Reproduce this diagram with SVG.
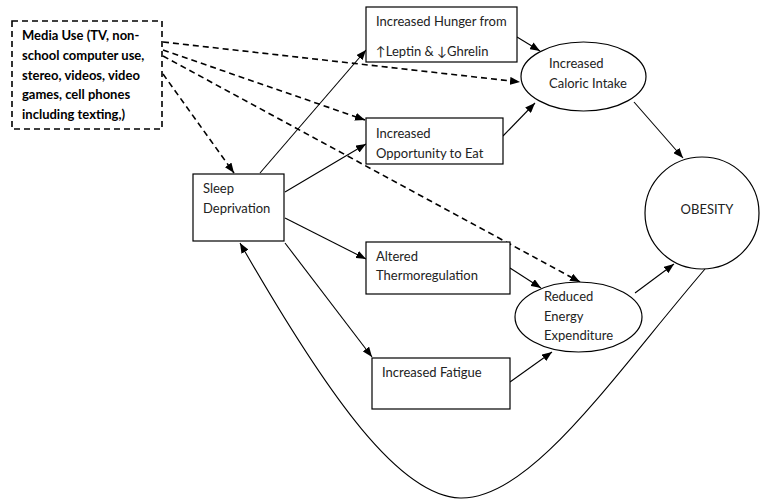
<svg xmlns="http://www.w3.org/2000/svg" width="760" height="502" viewBox="0 0 760 502">
<defs>
<marker id="ah" viewBox="0 0 10 8" refX="10" refY="4" markerWidth="10" markerHeight="8" markerUnits="userSpaceOnUse" orient="auto">
<path d="M0,0 L10,4 L0,8 z" fill="#000"/>
</marker>
<style>
.box{fill:#fff;stroke:#000;stroke-width:1.2}
.t{font-family:Lato,"Liberation Sans",sans-serif;font-size:13px;fill:#222}
.b{font-family:Lato,"Liberation Sans",sans-serif;font-size:13px;font-weight:bold;fill:#000}
.c{fill:none;stroke:#000;stroke-width:1.1;marker-end:url(#ah)}
.d{fill:none;stroke:#000;stroke-width:1.6;stroke-dasharray:6,4;marker-end:url(#ah)}
</style>
</defs>
<rect width="760" height="502" fill="#fff"/>
<g id="connectors">
<path class="c" d="M260,173 L366,50"/>
<path class="c" d="M285,192 L366,144"/>
<path class="c" d="M285,218 L366,259"/>
<path class="c" d="M285,243 L372,357"/>
<path class="c" d="M517,37 L540,51"/>
<path class="c" d="M503,136 L535,103"/>
<path class="c" d="M634,102 L683,158"/>
<path class="c" d="M510,268 L541,288"/>
<path class="c" d="M510,382 L552,352"/>
<path class="c" d="M635,293 L674,264"/>
<path class="c" d="M705,269 C610,380 530,500 460,498 C400,496 330,400 240,243"/>
<path class="d" d="M163,42 L520,82"/>
<path class="d" d="M163,50 L365,120"/>
<path class="d" d="M163,56 L580,282"/>
<path class="d" d="M163,74 L234,173"/>
</g>
<g id="media">
<rect x="12" y="21" width="150" height="108" fill="#fff" stroke="#000" stroke-width="1.6" stroke-dasharray="6,4"/>
<text class="b" x="22" y="40">Media Use (TV, non-</text>
<text class="b" x="22" y="60">school computer use,</text>
<text class="b" x="22" y="80">stereo, videos, video</text>
<text class="b" x="22" y="99">games, cell phones</text>
<text class="b" x="22" y="119">including texting,)</text>
</g>
<g id="sleep">
<rect class="box" x="193" y="174" width="91" height="67"/>
<text class="t" x="203" y="193">Sleep</text>
<text class="t" x="203" y="213">Deprivation</text>
</g>
<g id="hunger">
<rect class="box" x="366" y="7" width="151" height="55"/>
<text class="t" x="376" y="26">Increased Hunger from</text>
<text class="t" x="376" y="56">↑Leptin &amp; ↓Ghrelin</text>
</g>
<g id="opportunity">
<rect class="box" x="366" y="118" width="137" height="46"/>
<text class="t" x="376" y="138">Increased</text>
<text class="t" x="376" y="158">Opportunity to Eat</text>
</g>
<g id="thermo">
<rect class="box" x="366" y="242" width="144" height="52"/>
<text class="t" x="376" y="261">Altered</text>
<text class="t" x="376" y="280">Thermoregulation</text>
</g>
<g id="fatigue">
<rect class="box" x="372" y="358" width="138" height="51"/>
<text class="t" x="382" y="377">Increased Fatigue</text>
</g>
<g id="caloric">
<ellipse class="box" cx="583.5" cy="76.5" rx="62.5" ry="34.5"/>
<text class="t" x="549" y="68">Increased</text>
<text class="t" x="549" y="88">Caloric Intake</text>
</g>
<g id="energy">
<ellipse class="box" cx="578.5" cy="317" rx="63.5" ry="35"/>
<text class="t" x="544" y="301">Reduced</text>
<text class="t" x="544" y="321">Energy</text>
<text class="t" x="544" y="340">Expenditure</text>
</g>
<g id="obesity">
<ellipse class="box" cx="702" cy="213" rx="57" ry="56"/>
<text class="t" x="707" y="214" text-anchor="middle">OBESITY</text>
</g>
</svg>
